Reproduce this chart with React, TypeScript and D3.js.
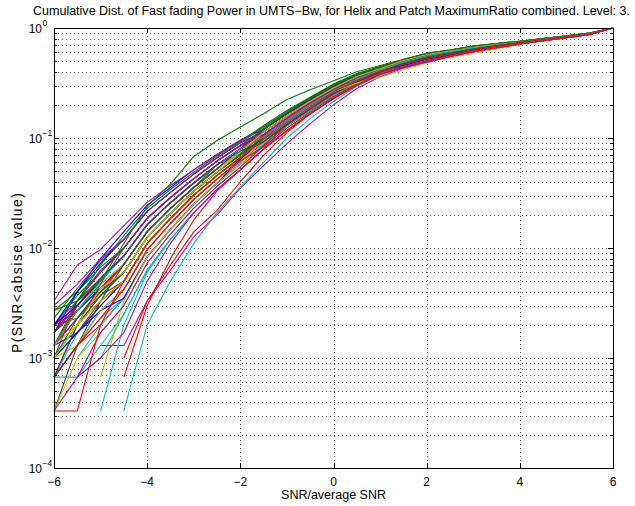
import React from 'react';
import * as d3 from 'd3';

const X_VALUES = [-6, -5.5, -5, -4.5, -4, -3.5, -3, -2.5, -2, -1.5, -1, -0.5, 0, 0.5, 1, 1.5, 2, 2.5, 3, 3.5, 4, 4.5, 5, 5.5, 6];
const X_TICKS = [-6, -4, -2, 0, 2, 4, 6];
const Y_DECADE_EXPONENTS = [-4, -3, -2, -1, 0];
const TITLE = 'Cumulative Dist. of Fast fading Power in UMTS\u2212Bw, for Helix and Patch MaximumRatio combined. Level: 3.';
const X_LABEL = 'SNR/average SNR';
const Y_LABEL = 'P(SNR<absise value)';

const MATLAB_COLORS: Record<string, string> = {
  b: '#0000ff', g: '#008000', r: '#ff0000', c: '#00bfbf', m: '#bf00bf', y: '#bfbf00', k: '#404040',
};

type V = number | null;
const s01: V[] = [1.3e-3, 2.7e-3, 4.3e-3, .0071, .0141, .0229, .0355, .0525, .0741, .107, .151, .209, .275, .355, .417, .468, .525, .575, .638, .686, .733, .782, .831, .886, 1];
const s02: V[] = [2e-3, 3.7e-3, 6e-3, .0100, .0186, .0288, .0427, .0617, .0851, .120, .166, .224, .295, .372, .437, .501, .562, .617, .668, .711, .750, .796, .844, .897, 1];
const s03: V[] = [1e-3, 2e-3, 3.3e-3, .0050, .0110, .0186, .0302, .0457, .0661, .0977, .138, .191, .263, .331, .407, .479, .550, .603, .653, .698, .742, .789, .837, .891, 1];
const s04: V[] = [6.7e-4, 1.3e-3, 2.3e-3, .0035, .0083, .0148, .0251, .0389, .0600, .0930, .138, .191, .263, .331, .407, .468, .525, .575, .638, .686, .733, .782, .831, .886, 1];
const s05: V[] = [null, 2.3e-3, 4e-3, .0071, .0141, .0229, .0355, .0525, .0741, .0977, .138, .191, .263, .331, .407, .447, .513, .562, .624, .673, .725, .774, .824, .880, 1];
const s06: V[] = [1e-3, 1.7e-3, 3e-3, .0050, .0110, .0186, .0302, .0457, .0661, .107, .151, .209, .275, .355, .417, .479, .550, .603, .653, .698, .742, .789, .837, .891, 1];
const s07: V[] = [1e-3, 3.3e-3, 6e-3, .0100, .0186, .0288, .0427, .0617, .0851, .107, .151, .209, .275, .355, .417, .468, .525, .575, .638, .686, .733, .782, .831, .886, 1];
const s08: V[] = [1.7e-3, 4e-3, 8e-3, .0141, .0245, .0355, .0513, .0708, .0955, .120, .166, .224, .295, .372, .437, .479, .550, .603, .653, .698, .742, .789, .837, .891, 1];
const s09: V[] = [1.3e-3, 2.7e-3, 4.7e-3, .0071, .0141, .0229, .0355, .0570, .0800, .120, .166, .224, .295, .372, .437, .513, .589, .631, .684, .724, .759, .804, .851, .902, 1];
const s10: V[] = [6.7e-4, 1.3e-3, 2e-3, .0035, .0083, .0148, .0251, .0389, .0575, .0871, .129, .178, .245, .316, .389, .468, .525, .575, .638, .686, .733, .782, .831, .886, 1];
const s11: V[] = [null, 6.7e-4, 1.3e-3, .0025, .0063, .0120, .0209, .0339, .0513, .0794, .129, .178, .245, .316, .389, .447, .513, .562, .624, .673, .725, .774, .824, .880, 1];
const s12: V[] = [2e-3, 3.3e-3, 6.3e-3, .0100, .0186, .0288, .0427, .0617, .0851, .120, .166, .224, .295, .372, .437, .479, .550, .603, .653, .698, .742, .789, .837, .891, 1];
const s13: V[] = [6.7e-4, 2e-3, 3.7e-3, .0050, .0110, .0186, .0302, .0457, .0661, .0977, .138, .191, .263, .331, .407, .468, .525, .575, .638, .686, .733, .782, .831, .886, 1];
const s14: V[] = [1.3e-3, 2.3e-3, 4.3e-3, .0071, .0141, .0229, .0355, .0525, .0741, .107, .151, .209, .275, .355, .417, .501, .562, .617, .668, .711, .750, .796, .844, .897, 1];
const s15: V[] = [1.3e-3, 1.7e-3, 3e-3, .0050, .0110, .0186, .0302, .0457, .0661, .0871, .129, .178, .245, .316, .389, .447, .490, .550, .610, .661, .716, .767, .817, .875, 1];
const s16: V[] = [2.7e-3, 4e-3, 6.7e-3, .0100, .0186, .0288, .0427, .0617, .0851, .107, .151, .209, .275, .355, .417, .479, .550, .603, .653, .698, .742, .789, .837, .891, 1];
const s17: V[] = [2e-3, 2.7e-3, 4.3e-3, .0071, .0141, .0229, .0355, .0525, .0741, .0977, .138, .191, .263, .331, .407, .468, .525, .575, .638, .686, .733, .782, .831, .886, 1];
const s18: V[] = [null, 1e-3, 2e-3, .0035, .0083, .0148, .0251, .0389, .0575, .0871, .129, .178, .245, .316, .389, .437, .490, .550, .610, .661, .716, .767, .817, .875, 1];
const s19: V[] = [3.3e-3, 7e-3, 9.7e-3, .0160, .0260, .0370, .0513, .0708, .0955, .125, .170, .230, .300, .380, .447, .513, .589, .631, .684, .724, .759, .804, .851, .902, 1];
const s20: V[] = [2.7e-3, 3.3e-3, 4.7e-3, .0071, .0141, .0229, .0355, .0525, .0741, .107, .151, .209, .275, .355, .417, .479, .550, .603, .653, .698, .742, .789, .837, .891, 1];
const s21: V[] = [1e-3, 1.7e-3, 3.3e-3, .0050, .0110, .0186, .0302, .0457, .0661, .0977, .138, .191, .263, .331, .407, .447, .513, .562, .624, .673, .725, .774, .824, .880, 1];
const s22: V[] = [6.7e-4, 1.3e-3, 2.7e-3, .0035, .0083, .0148, .0251, .0389, .0640, .0977, .138, .191, .263, .331, .407, .479, .550, .603, .653, .698, .742, .789, .837, .891, 1];
const s23: V[] = [1.3e-3, 3.3e-3, 7e-3, .0130, .0230, .0340, .0490, .0690, .0930, .130, .178, .235, .310, .385, .445, .501, .562, .617, .668, .711, .750, .796, .844, .897, 1];
const s24: V[] = [2e-3, 2.3e-3, 3.7e-3, .0050, .0110, .0186, .0302, .0457, .0661, .107, .151, .209, .275, .355, .417, .468, .525, .575, .638, .686, .733, .782, .831, .886, 1];
const s25: V[] = [6.7e-4, 6.7e-4, 1e-3, .0025, .0063, .0120, .0209, .0339, .0513, .0794, .117, .166, .229, .302, .380, .447, .513, .562, .624, .673, .725, .774, .824, .880, 1];
const s26: V[] = [6.7e-4, 2e-3, 4.7e-3, .0100, .0186, .0288, .0427, .0617, .0851, .107, .151, .209, .275, .355, .417, .501, .562, .617, .668, .711, .750, .796, .844, .897, 1];
const s27: V[] = [null, null, 6.7e-4, 3.3e-3, .0083, .0148, .0251, .0389, .0575, .0900, .138, .191, .263, .331, .407, .447, .513, .562, .624, .673, .725, .774, .824, .880, 1];
const s28: V[] = [3.3e-4, 1.3e-3, 3.3e-3, .0071, .0141, .0229, .0355, .0525, .0800, .120, .166, .224, .295, .372, .437, .479, .550, .603, .653, .698, .742, .789, .837, .891, 1];
const s38: V[] = [2e-3, 4e-3, 7.3e-3, .0120, .0215, .0320, .0470, .0662, .0903, .113, .158, .216, .285, .363, .427, .473, .537, .589, .645, .692, .737, .785, .834, .888, 1];
const s39: V[] = [1.7e-3, 3e-3, 5.3e-3, .0085, .0163, .0258, .0390, .0570, .0796, .118, .173, .232, .305, .380, .442, .490, .556, .610, .660, .704, .746, .792, .840, .894, 1];
const s40: V[] = [1.3e-3, 2.3e-3, 4e-3, .0060, .0125, .0207, .0328, .0490, .0700, .102, .144, .200, .269, .343, .412, .457, .519, .568, .631, .679, .729, .778, .827, .883, 1];
const s41: V[] = [6.7e-4, 1.7e-3, 2.7e-3, .0042, .0096, .0167, .0276, .0423, .0618, .0924, .133, .184, .254, .323, .398, .473, .537, .589, .645, .692, .737, .785, .834, .888, 1];
const s42: V[] = [1.7e-3, 3e-3, 5.3e-3, .0085, .0163, .0258, .0390, .0570, .0796, .102, .144, .200, .269, .343, .427, .507, .575, .624, .676, .717, .754, .800, .847, .899, 1];
const s43: V[] = [3.3e-4, 1e-3, 1.7e-3, .0030, .0073, .0134, .0230, .0364, .0544, .0832, .123, .172, .237, .309, .384, .457, .519, .568, .631, .679, .729, .778, .827, .883, 1];
const s44: V[] = [1.7e-3, 2.7e-3, 4.3e-3, .0060, .0125, .0207, .0328, .0490, .0720, .113, .158, .216, .285, .363, .427, .490, .556, .610, .660, .704, .746, .792, .840, .894, 1];
const s45: V[] = [1e-3, 1.7e-3, 2.7e-3, .0042, .0096, .0167, .0276, .0423, .0640, .102, .144, .200, .269, .343, .412, .442, .501, .556, .617, .667, .720, .770, .820, .877, 1];
const s46: V[] = [2.3e-3, 4.3e-3, 7.7e-3, .0120, .0215, .0320, .0470, .0662, .0903, .126, .173, .232, .305, .380, .442, .507, .575, .624, .676, .717, .754, .800, .847, .899, 1];
const s47: V[] = [1.3e-3, 3e-3, 5.3e-3, .0085, .0163, .0258, .0390, .0570, .0796, .113, .158, .216, .285, .363, .427, .473, .537, .589, .645, .692, .737, .785, .834, .888, 1];
const s48: V[] = [1e-3, 2e-3, 3.7e-3, .0060, .0125, .0207, .0328, .0490, .0700, .0924, .133, .184, .254, .323, .398, .457, .519, .568, .631, .679, .729, .778, .827, .883, 1];
const s49: V[] = [3e-3, 4.7e-3, 8e-3, .0120, .0215, .0320, .0470, .0662, .0903, .113, .158, .216, .285, .363, .427, .507, .575, .624, .676, .717, .754, .800, .847, .899, 1];
const s50: V[] = [1e-3, 1.3e-3, 2.7e-3, .0042, .0096, .0167, .0276, .0423, .0618, .0950, .144, .200, .269, .343, .412, .473, .537, .589, .645, .692, .737, .785, .834, .888, 1];
const s51: V[] = [6.7e-4, 2e-3, 3.7e-3, .0060, .0125, .0207, .0328, .0490, .0700, .0924, .133, .184, .254, .323, .398, .490, .556, .610, .660, .704, .746, .792, .840, .894, 1];
const s52: V[] = [2e-3, 3e-3, 5e-3, .0085, .0163, .0258, .0390, .0570, .0796, .102, .144, .200, .269, .343, .412, .457, .519, .568, .631, .679, .729, .778, .827, .883, 1];
const s53: V[] = [1e-3, 2.3e-3, 4e-3, .0060, .0125, .0207, .0328, .0490, .0700, .102, .144, .200, .269, .343, .412, .473, .537, .589, .645, .692, .737, .785, .834, .888, 1];
const s54: V[] = [6.7e-4, 1.3e-3, 2.3e-3, .0042, .0096, .0167, .0276, .0423, .0618, .0832, .123, .172, .237, .309, .384, .442, .501, .556, .617, .667, .720, .770, .820, .877, 1];
const s55: V[] = [1.3e-3, 2.7e-3, 5e-3, .0085, .0163, .0258, .0390, .0570, .0796, .102, .144, .200, .269, .343, .412, .490, .556, .610, .660, .704, .746, .792, .840, .894, 1];
const s56: V[] = [null, 6.7e-4, 1.7e-3, .0030, .0073, .0134, .0230, .0364, .0544, .0850, .133, .184, .254, .323, .398, .442, .501, .556, .617, .667, .720, .770, .820, .877, 1];
const s57: V[] = [1.3e-3, 2e-3, 4.3e-3, .0060, .0125, .0207, .0328, .0490, .0740, .113, .158, .216, .285, .363, .427, .507, .575, .624, .676, .717, .754, .800, .847, .899, 1];
const s58: V[] = [1.7e-3, 3.3e-3, 5.3e-3, .0085, .0163, .0258, .0390, .0570, .0760, .0924, .133, .184, .254, .323, .398, .473, .537, .589, .645, .692, .737, .785, .834, .888, 1];
const s29: V[] = [2.7e-3, 3.3e-3, 5e-3, .0110, .0240, .0380, .0680, .0950, .126, .166, .224, .275, .331, .400, .457, .520, .589, .631, .684, .724, .759, .804, .851, .902, 1];
const s30: V[] = [null, null, 1.3e-3, 1.3e-3, 3.3e-3, 6.3e-3, .0126, .0200, .0350, .0560, .0890, .135, .200, .282, .360, .430, .490, .550, .610, .661, .716, .767, .817, .875, 1];
const s31: V[] = [null, null, null, 1e-3, 3.3e-3, 7e-3, .0140, .0220, .0400, .0700, .112, .166, .229, .302, .380, .437, .490, .550, .610, .661, .716, .767, .817, .875, 1];
const s32: V[] = [1e-3, 2e-3, 3.3e-3, .0050, .0110, .0186, .0302, .0457, .0661, .0977, .138, .191, .263, .316, .355, .420, .480, .540, .590, .645, .710, .774, .824, .880, 1];
const s33: V[] = [3.3e-4, 3.3e-4, 2e-3, .0050, .0110, .0186, .0302, .0457, .0661, .0977, .138, .191, .263, .331, .407, .468, .525, .575, .638, .686, .733, .782, .831, .886, 1];
const s34: V[] = [null, null, 3.3e-4, 2e-3, 6e-3, .0120, .0209, .0339, .0513, .0794, .117, .166, .229, .302, .380, .437, .490, .550, .610, .661, .716, .767, .817, .875, 1];
const s35: V[] = [null, null, null, 3.3e-4, 2e-3, 5e-3, .0110, .0210, .0360, .0600, .100, .150, .215, .295, .372, .437, .490, .550, .610, .661, .716, .767, .817, .875, 1];
const s36: V[] = [3.3e-4, 6.7e-4, 1e-3, 1.7e-3, 5e-3, .0110, .0209, .0339, .0513, .0794, .117, .166, .229, .302, .380, .437, .490, .550, .610, .661, .716, .767, .817, .875, 1];
const s37: V[] = [null, null, null, 6.7e-4, 3e-3, 8e-3, .0180, .0330, .0513, .0794, .117, .166, .229, .302, .380, .437, .490, .550, .610, .661, .716, .767, .817, .875, 1];

const SERIES: V[][] = [
  s01, s02, s03, s04, s05, s06, s07, s08, s09, s10, s11, s12, s13, s14,
  s15, s16, s17, s18, s19, s20, s21, s22, s23, s24, s25, s26, s27, s28,
  s38, s39, s40, s41, s42, s43, s44, s45, s46, s47, s48, s49, s50, s51,
  s52, s53, s54, s55, s56, s57, s58,
  s29, s30, s31, s32, s33, s34, s35, s36, s37,
];
const SERIES_COLORS = [
  'b', 'g', 'r', 'c', 'm', 'y', 'k', 'b', 'g', 'r', 'c', 'm', 'y', 'k',
  'b', 'g', 'r', 'c', 'm', 'y', 'k', 'b', 'g', 'r', 'c', 'm', 'y', 'k',
  'b', 'g', 'r', 'c', 'm', 'y', 'k', 'b', 'g', 'r', 'c', 'm', 'y', 'k',
  'b', 'g', 'r', 'c', 'm', 'y', 'k',
  'g', 'm', 'r', 'y', 'r', 'c', 'c', 'm', 'r',
];

const W = 635;
const H = 506;
const LEFT = 54;
const RIGHT = 613;
const TOP = 28;
const BOTTOM = 468;
const FONT = 'Liberation Sans, Arial, Helvetica, sans-serif';

export default function App() {
  const x = d3.scaleLinear().domain([-6, 6]).range([LEFT, RIGHT]);
  const y = d3.scaleLog().domain([1e-4, 1]).range([BOTTOM, TOP]);
  const line = d3
    .line<[number, V]>()
    .defined((d) => d[1] != null && (d[1] as number) > 0)
    .x((d) => x(d[0]))
    .y((d) => y(d[1] as number));

  const yTicks = y.ticks();
  const isMajor = (v: number) => Math.abs(Math.log10(v) - Math.round(Math.log10(v))) < 1e-6;
  const px = (v: number) => Math.round(v) + 0.5;
  const gridStyle = { stroke: '#555', strokeWidth: 1, strokeDasharray: '1,3', shapeRendering: 'crispEdges' as const };

  return (
    <div style={{ position: 'absolute', left: 0, top: 0 }}>
      <svg width={W} height={H} style={{ display: 'block', background: '#fff' }}>
        <rect x={0} y={0} width={W} height={H} fill="#fff" />
        {X_TICKS.filter((t) => t !== -6 && t !== 6).map((t) => (
          <line key={'gx' + t} x1={px(x(t))} x2={px(x(t))} y1={TOP} y2={BOTTOM} {...gridStyle} />
        ))}
        {yTicks
          .filter((v) => v > 1e-4 && v < 1)
          .map((v, i) => (
            <line key={'gy' + i} x1={LEFT} x2={RIGHT} y1={px(y(v))} y2={px(y(v))} {...gridStyle} />
          ))}
        {SERIES.map((s, i) => (
          <path
            key={'s' + i}
            d={line(X_VALUES.map((xv, j) => [xv, s[j]] as [number, V])) || ''}
            fill="none"
            stroke={MATLAB_COLORS[SERIES_COLORS[i]]}
            strokeWidth={1.1}
            strokeLinejoin="round"
          />
        ))}
        {X_TICKS.map((t) => (
          <g key={'tx' + t}>
            <line x1={px(x(t))} x2={px(x(t))} y1={BOTTOM} y2={BOTTOM - 5} stroke="#000" shapeRendering="crispEdges" />
            <line x1={px(x(t))} x2={px(x(t))} y1={TOP} y2={TOP + 5} stroke="#000" shapeRendering="crispEdges" />
          </g>
        ))}
        {yTicks.map((v, i) => {
          const len = isMajor(v) ? 5 : 3;
          const yy = px(y(v));
          return (
            <g key={'ty' + i}>
              <line x1={LEFT} x2={LEFT + len} y1={yy} y2={yy} stroke="#000" shapeRendering="crispEdges" />
              <line x1={RIGHT} x2={RIGHT - len} y1={yy} y2={yy} stroke="#000" shapeRendering="crispEdges" />
            </g>
          );
        })}
        <rect x={LEFT + 0.5} y={TOP + 0.5} width={RIGHT - LEFT} height={BOTTOM - TOP} fill="none" stroke="#000" strokeWidth={1} shapeRendering="crispEdges" />
        {X_TICKS.map((t) => (
          <text key={'lx' + t} x={x(t)} y={486} textAnchor="middle" fontFamily={FONT} fontSize={12} fill="#000">
            {t < 0 ? '\u2212' + Math.abs(t) : String(t)}
          </text>
        ))}
        {Y_DECADE_EXPONENTS.map((e) => {
          const yy = y(Math.pow(10, e));
          return (
            <g key={'ly' + e}>
              <text x={42} y={yy + 4.5} textAnchor="end" fontFamily={FONT} fontSize={12} fill="#000">10</text>
              <text x={42.5} y={yy - 2.5} textAnchor="start" fontFamily={FONT} fontSize={8.5} fill="#000">
                {e < 0 ? '\u2212' + Math.abs(e) : String(e)}
              </text>
            </g>
          );
        })}
        <text x={33} y={15} textAnchor="start" textLength={597} lengthAdjust="spacingAndGlyphs" fontFamily={FONT} fontSize={12} fill="#000">{TITLE}</text>
        <text x={(LEFT + RIGHT) / 2} y={499} textAnchor="middle" fontFamily={FONT} fontSize={12.5} fill="#000">{X_LABEL}</text>
        <text transform="translate(22,273) rotate(-90)" textAnchor="middle" textLength={160} lengthAdjust="spacing" fontFamily={FONT} fontSize={14} fill="#000">{Y_LABEL}</text>
      </svg>
    </div>
  );
}
